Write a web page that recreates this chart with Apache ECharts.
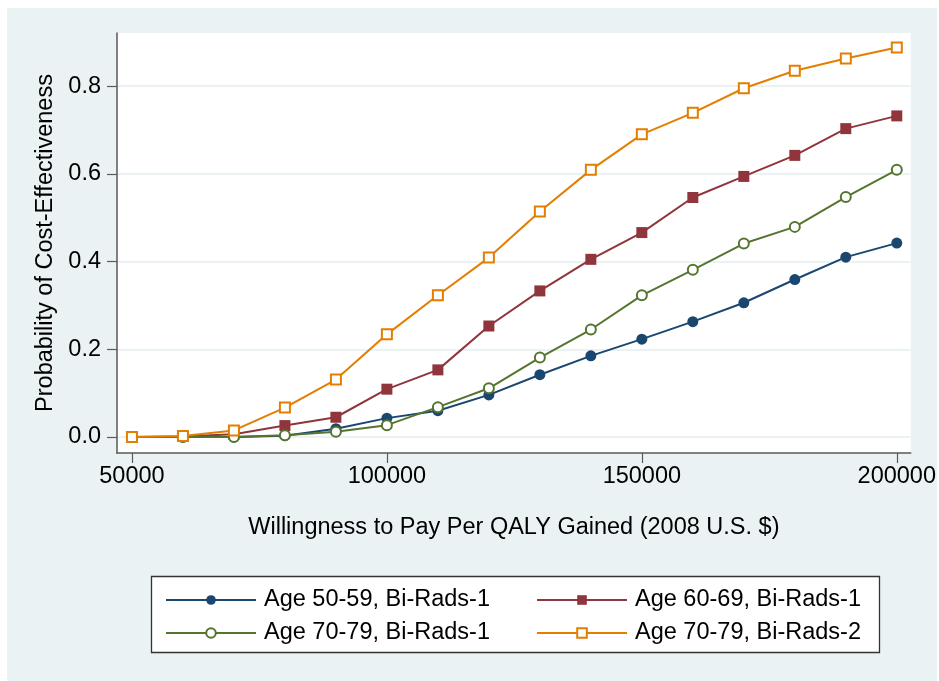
<!DOCTYPE html>
<html>
<head>
<meta charset="utf-8">
<script src="https://cdn.jsdelivr.net/npm/echarts@6/dist/echarts.min.js"></script>
<style>
  html, body { margin: 0; padding: 0; background: #ffffff; }
  #chart { width: 939px; height: 681px; }
</style>
</head>
<body>
<div id="chart"></div>
<script>
// Willingness-to-pay thresholds (2008 U.S. $ per QALY gained)
const wtp = [50000, 60000, 70000, 80000, 90000, 100000, 110000, 120000, 130000, 140000, 150000, 160000, 170000, 180000, 190000, 200000];

// Probability of cost-effectiveness for each group
const age5059BR1 = [0, 0, 0, 0.003, 0.019, 0.043, 0.060, 0.096, 0.142, 0.185, 0.223, 0.263, 0.306, 0.359, 0.410, 0.442];
const age6069BR1 = [0, 0.001, 0.006, 0.026, 0.045, 0.109, 0.153, 0.253, 0.333, 0.405, 0.466, 0.546, 0.594, 0.642, 0.703, 0.732];
const age7079BR1 = [0, 0, 0, 0.004, 0.012, 0.027, 0.068, 0.111, 0.181, 0.245, 0.323, 0.381, 0.441, 0.479, 0.547, 0.609];
const age7079BR2 = [0, 0.002, 0.015, 0.067, 0.131, 0.234, 0.323, 0.409, 0.514, 0.609, 0.690, 0.739, 0.795, 0.835, 0.863, 0.888];

const seriesNames = ['Age 50-59, Bi-Rads-1', 'Age 60-69, Bi-Rads-1', 'Age 70-79, Bi-Rads-1', 'Age 70-79, Bi-Rads-2'];

// Axis ticks
const xTicks = [50000, 100000, 150000, 200000];
const yTicks = [0, 0.2, 0.4, 0.6, 0.8];

const FONT = '"Liberation Sans", Arial, sans-serif';
const FONT_SIZE = 23.5;
const AXIS_COLOR = '#595959';
const BG = '#eaf2f3';

function pairs(ys) {
  return wtp.map((x, i) => [x, ys[i]]);
}

function lineSeries(name, ys, color, symbol, size) {
  return {
    name: name,
    type: 'line',
    data: pairs(ys),
    symbol: symbol,
    symbolSize: size,
    showAllSymbol: true,
    lineStyle: { color: color, width: 2, type: 'solid' },
    itemStyle: { color: color, borderWidth: 2 },
    emphasis: { disabled: true },
    animation: false
  };
}

const legendBase = {
  itemWidth: 90,
  itemHeight: 12,
  itemGap: 22,
  textStyle: {
    fontFamily: FONT,
    fontSize: FONT_SIZE,
    color: '#000000',
    width: 250,
    lineHeight: 24,
    padding: [0, 0, 0, 3]
  },
  selectedMode: false
};

const chart = echarts.init(document.getElementById('chart'), null, { renderer: 'canvas' });

chart.setOption({
  backgroundColor: '#ffffff',
  animation: false,
  textStyle: { fontFamily: FONT },
  graphic: [
    {
      type: 'rect',
      z: -10,
      silent: true,
      shape: { x: 7, y: 8, width: 930, height: 673 },
      style: { fill: BG }
    },
    {
      type: 'rect',
      z: -5,
      silent: true,
      shape: { x: 151.5, y: 576.5, width: 728, height: 76 },
      style: { fill: '#ffffff', stroke: '#333333', lineWidth: 1.3 }
    }
  ],
  grid: {
    left: 117,
    top: 33,
    right: 26,
    bottom: 228,
    containLabel: false,
    show: true,
    backgroundColor: '#ffffff',
    borderWidth: 0
  },
  xAxis: {
    type: 'value',
    min: 47070,
    max: 202734,
    name: 'Willingness to Pay Per QALY Gained (2008 U.S. $)',
    nameLocation: 'middle',
    nameGap: 63,
    nameTextStyle: { fontFamily: FONT, fontSize: FONT_SIZE, color: '#000000' },
    axisLine: { show: true, onZero: false, lineStyle: { color: AXIS_COLOR, width: 1.5 } },
    axisTick: { show: true, length: 10, customValues: xTicks, lineStyle: { color: AXIS_COLOR, width: 1.2 } },
    axisLabel: {
      customValues: xTicks,
      margin: 12,
      fontFamily: FONT,
      fontSize: FONT_SIZE,
      color: '#000000',
      formatter: v => String(v)
    },
    splitLine: { show: false }
  },
  yAxis: {
    type: 'value',
    min: -0.0365,
    max: 0.921,
    name: 'Probability of Cost-Effectiveness',
    nameLocation: 'middle',
    nameGap: 57,
    nameTextStyle: { fontFamily: FONT, fontSize: FONT_SIZE, color: '#000000' },
    axisLine: { show: true, onZero: false, lineStyle: { color: AXIS_COLOR, width: 1.5 } },
    axisTick: { show: true, length: 10, customValues: yTicks, lineStyle: { color: AXIS_COLOR, width: 1.2 } },
    axisLabel: {
      customValues: yTicks,
      margin: 16,
      fontFamily: FONT,
      fontSize: FONT_SIZE,
      color: '#000000',
      formatter: v => v.toFixed(1)
    },
    splitLine: { show: true, lineStyle: { color: BG, width: 2 } }
  },
  legend: [
    Object.assign({}, legendBase, {
      left: 160,
      top: 583,
      data: [seriesNames[0], seriesNames[1]]
    }),
    Object.assign({}, legendBase, {
      left: 160,
      top: 616,
      data: [seriesNames[2], seriesNames[3]]
    })
  ],
  series: [
    lineSeries(seriesNames[0], age5059BR1, '#1a476f', 'circle', 11),
    lineSeries(seriesNames[1], age6069BR1, '#90353b', 'rect', 11),
    lineSeries(seriesNames[2], age7079BR1, '#55752f', 'emptyCircle', 10),
    lineSeries(seriesNames[3], age7079BR2, '#e37e00', 'emptyRect', 10)
  ]
});
</script>
</body>
</html>
